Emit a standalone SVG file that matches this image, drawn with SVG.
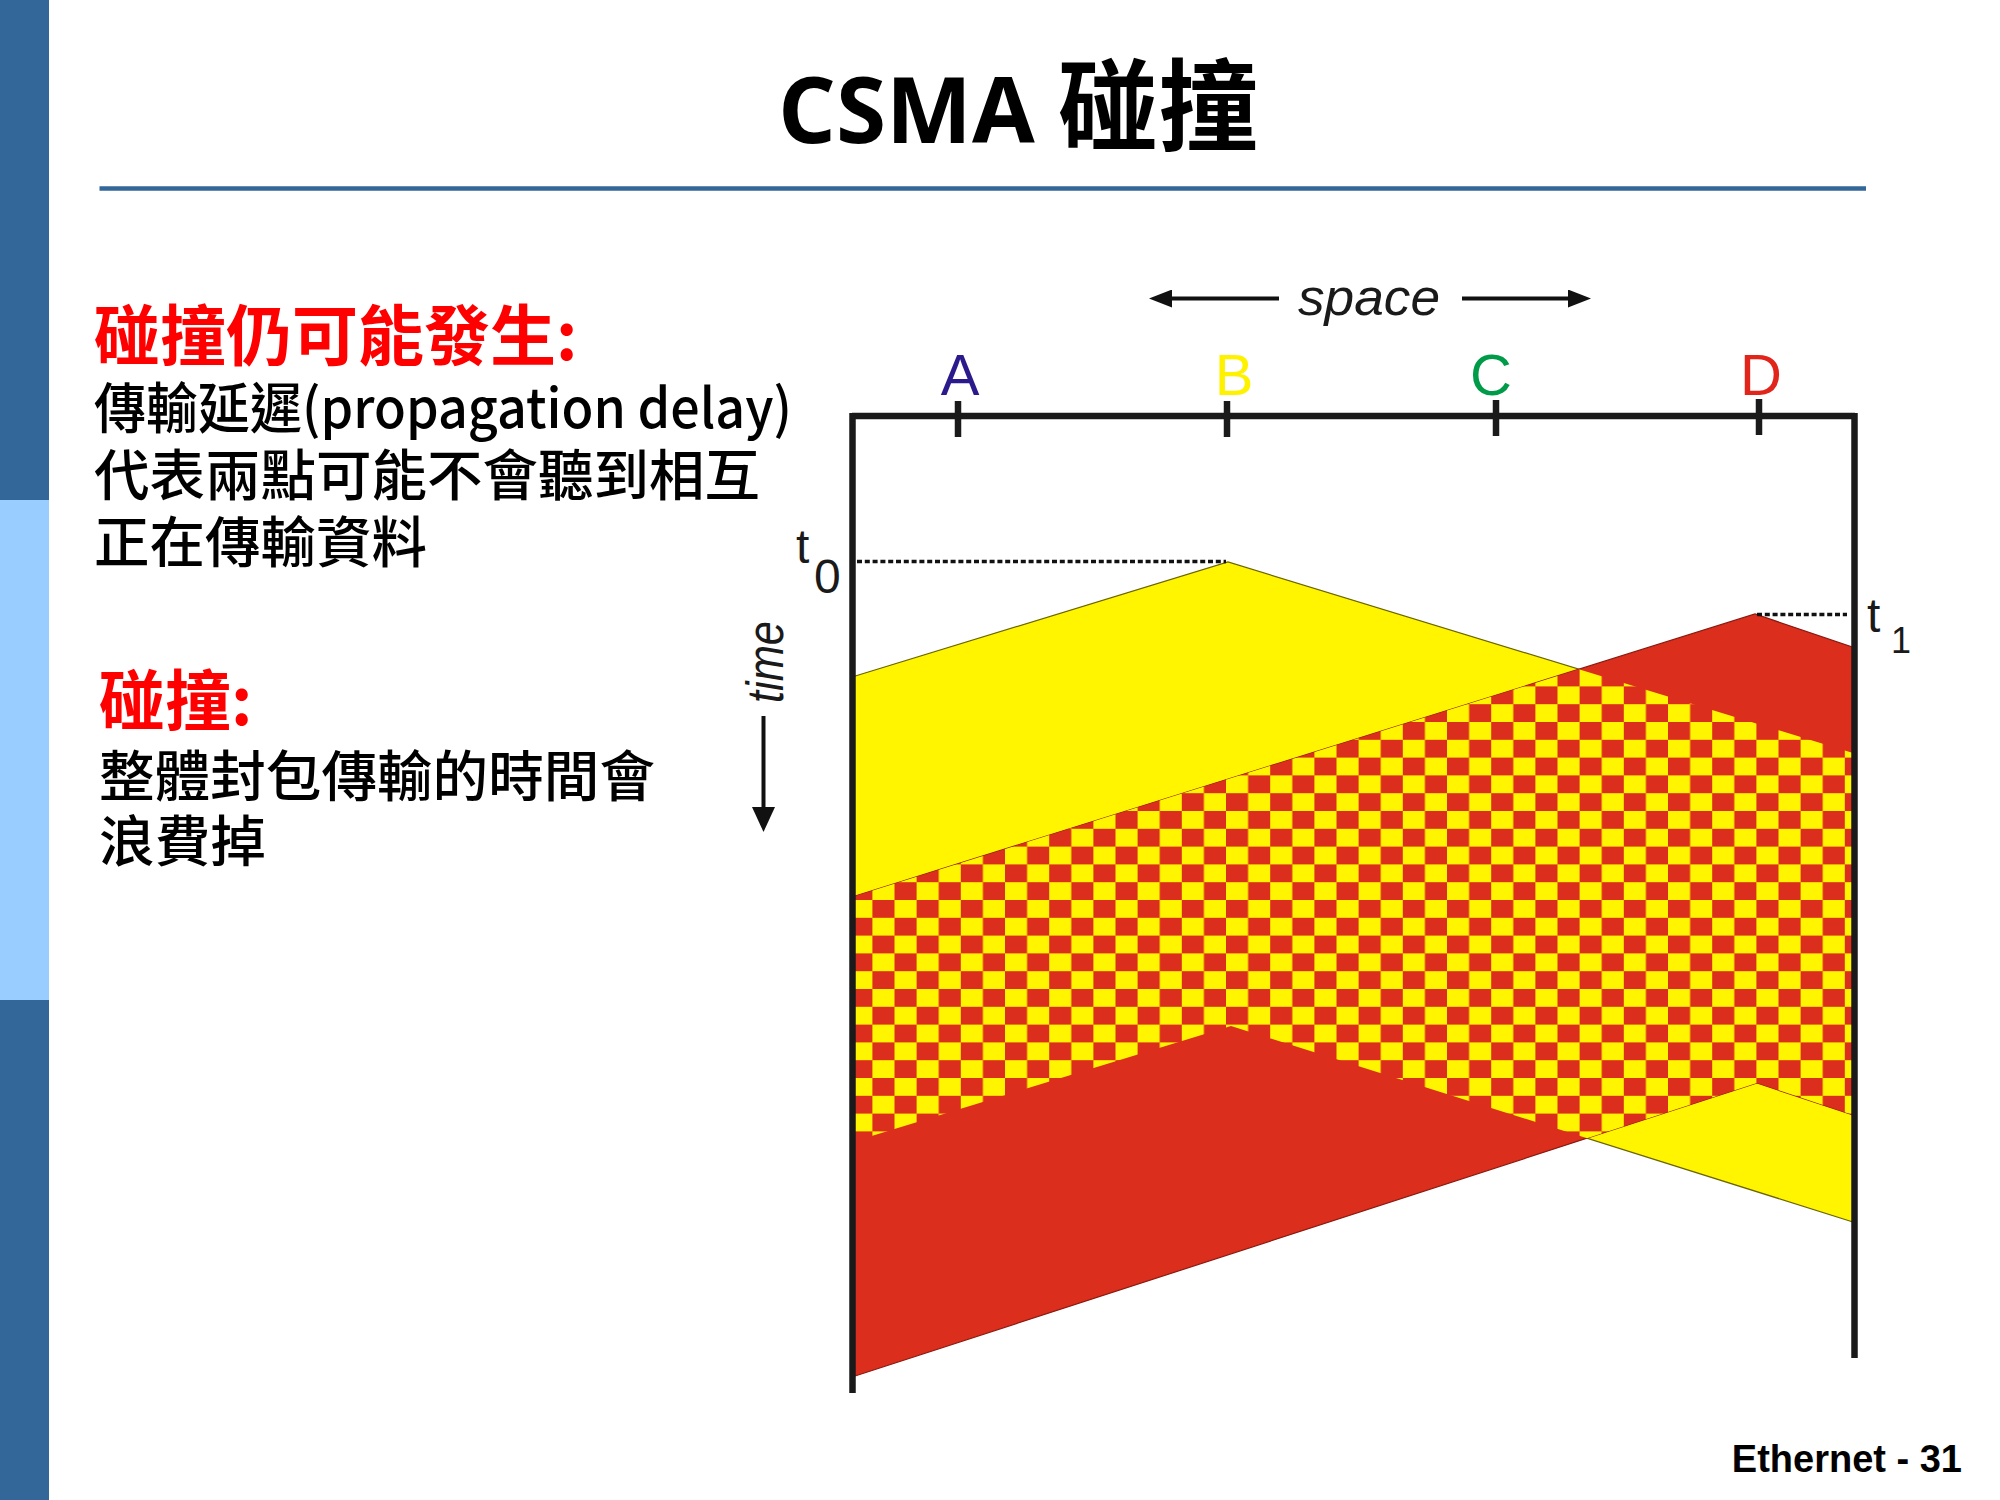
<svg xmlns="http://www.w3.org/2000/svg" width="2000" height="1500" viewBox="0 0 2000 1500">
  <style>
    .title-lat { font-family: "Open Sans", "Liberation Sans", sans-serif; font-weight: 700; font-size: 91px; fill: #000; }
    .title-cjk { font-family: "Noto Sans CJK TC", "Noto Sans CJK SC", sans-serif; font-weight: 700; font-size: 100px; fill: #000; }
    .head { font-family: "Noto Sans CJK TC", "Noto Sans CJK SC", sans-serif; font-weight: 700; font-size: 66px; fill: #FF0000; }
    .body { font-family: "Noto Sans CJK TC", "Noto Sans CJK SC", sans-serif; font-weight: 500; font-size: 55px; fill: #000; }
    .station { font-family: "Liberation Sans", Arial, sans-serif; font-size: 58px; text-anchor: middle; }
    .axis { font-family: "Liberation Sans", Arial, sans-serif; font-style: italic; font-size: 52px; fill: #1a1a1a; }
    .tlab { font-family: "Liberation Sans", Arial, sans-serif; fill: #1a1a1a; }
    .frame { stroke: #1a1a1a; stroke-width: 6.5; fill: none; }
    .tick { stroke: #1a1a1a; stroke-width: 6.5; }
    .dots { stroke: #111; stroke-width: 3.3; stroke-dasharray: 5 2.8; fill: none; }
    .arrow { stroke: #111; stroke-width: 4; fill: none; }
    .footer { font-family: "Liberation Sans", Arial, sans-serif; font-weight: 700; font-size: 38px; fill: #000; }
  </style>
  <defs>
    <pattern id="checker" patternUnits="userSpaceOnUse" x="872.4" y="900" width="44.2" height="35.6">
      <rect x="0" y="0" width="44.2" height="35.6" fill="#FFF500"/>
      <rect x="0" y="0" width="22.1" height="17.8" fill="#DC2E1C"/>
      <rect x="22.1" y="17.8" width="22.1" height="17.8" fill="#DC2E1C"/>
    </pattern>
    <marker id="headSpace" markerUnits="userSpaceOnUse" markerWidth="23" markerHeight="18" refX="0" refY="9" orient="auto" viewBox="0 0 23 18">
      <path d="M0,0 L23,9 L0,18 Z" fill="#111"/>
    </marker>
    <marker id="headTime" markerUnits="userSpaceOnUse" markerWidth="25" markerHeight="23" refX="0" refY="11.5" orient="auto" viewBox="0 0 25 23">
      <path d="M0,0 L25,11.5 L0,23 Z" fill="#111"/>
    </marker>
  </defs>

  <rect x="0" y="0" width="2000" height="1500" fill="#FFFFFF"/>

  <g id="sidebar">
    <rect x="0" y="0" width="49" height="500" fill="#336699"/>
    <rect x="0" y="500" width="49" height="500" fill="#99CCFF"/>
    <rect x="0" y="1000" width="49" height="500" fill="#336699"/>
  </g>

  <g id="title">
    <text x="778" y="143"><tspan class="title-lat">CSMA </tspan><tspan class="title-cjk">碰撞</tspan></text>
    <line x1="99.5" y1="188.4" x2="1866" y2="188.4" stroke="#336699" stroke-width="4.5"/>
  </g>

  <g id="notes">
    <text class="head" x="94" y="360">碰撞仍可能發生:</text>
    <text class="body" x="94" y="428" textLength="698" lengthAdjust="spacingAndGlyphs">傳輸延遲(propagation delay)</text>
    <text class="body" x="94" y="495" textLength="666" lengthAdjust="spacingAndGlyphs">代表兩點可能不會聽到相互</text>
    <text class="body" x="94" y="562" textLength="333" lengthAdjust="spacingAndGlyphs">正在傳輸資料</text>
    <text class="head" x="99" y="725">碰撞:</text>
    <text class="body" x="99" y="796" textLength="556" lengthAdjust="spacingAndGlyphs">整體封包傳輸的時間會</text>
    <text class="body" x="99" y="861" textLength="167" lengthAdjust="spacingAndGlyphs">浪費掉</text>
  </g>

  <g id="signals">
    <polygon id="signal-B" points="852,677 1228,562 1853,753 1853,1222 1231,1026 852,1142" fill="#FFF500" stroke="#6b6400" stroke-width="1.2"/>
    <polygon id="signal-D" points="852,897 1755,614 1855,648 1853,1115 1757,1083 852,1377" fill="#DC2E1C" stroke="#8a1a10" stroke-width="1.2"/>
    <polygon id="collision" points="852,897 1578.8,669.2 1853,753 1853,1115 1757,1083 1587.1,1138.2 1231,1026 852,1142" fill="url(#checker)"/>
  </g>

  <g id="frame">
    <line class="frame" x1="852" y1="416" x2="1855" y2="416"/>
    <line class="frame" x1="852.5" y1="413" x2="852.5" y2="1393"/>
    <line class="frame" x1="1854.5" y1="413" x2="1854.5" y2="1358"/>
  </g>

  <g id="station-A">
    <line class="tick" x1="958" y1="401" x2="958" y2="437"/>
    <text class="station" x="960" y="395" fill="#2B1A8C">A</text>
  </g>
  <g id="station-B">
    <line class="tick" x1="1227" y1="401" x2="1227" y2="437"/>
    <text class="station" x="1234" y="395" fill="#FFF200">B</text>
  </g>
  <g id="station-C">
    <line class="tick" x1="1496" y1="400" x2="1496" y2="436"/>
    <text class="station" x="1491" y="395" fill="#009B48">C</text>
  </g>
  <g id="station-D">
    <line class="tick" x1="1759" y1="399" x2="1759" y2="435"/>
    <text class="station" x="1761" y="395" fill="#E1251B">D</text>
  </g>

  <g id="markers-time">
    <line class="dots" x1="857" y1="561.5" x2="1226" y2="561.5"/>
    <line class="dots" x1="1757" y1="614.5" x2="1847" y2="614.5"/>
    <text class="tlab" x="796" y="563" font-size="48">t</text>
    <text class="tlab" x="814" y="593" font-size="48">0</text>
    <text class="tlab" x="1867" y="632" font-size="48">t</text>
    <text class="tlab" x="1891" y="653" font-size="36">1</text>
  </g>

  <g id="axes">
    <text class="axis" x="1298" y="315" textLength="142" lengthAdjust="spacingAndGlyphs">space</text>
    <line class="arrow" x1="1279" y1="298.5" x2="1172" y2="298.5" marker-end="url(#headSpace)"/>
    <line class="arrow" x1="1462" y1="298.5" x2="1568" y2="298.5" marker-end="url(#headSpace)"/>
    <text class="axis" transform="translate(783,703) rotate(-90)" x="0" y="0" textLength="82" lengthAdjust="spacingAndGlyphs">time</text>
    <line class="arrow" x1="763.5" y1="716" x2="763.5" y2="807" marker-end="url(#headTime)"/>
  </g>

  <text class="footer" x="1962" y="1472" text-anchor="end">Ethernet - 31</text>
</svg>
